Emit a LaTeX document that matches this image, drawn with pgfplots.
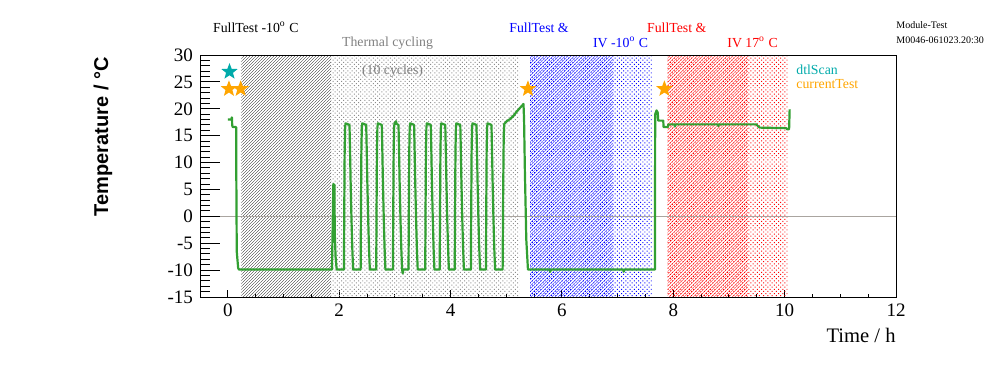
\documentclass[border=0pt]{standalone}
\usepackage{fontspec}
\setmainfont{Liberation Serif}
\newfontfamily\helv{Liberation Sans}
\usepackage{pgfplots}
\pgfplotsset{compat=1.18}
\usetikzlibrary{patterns.meta}

\definecolor{cgreen}{RGB}{50,160,50}
\definecolor{cteal}{RGB}{0,170,170}
\definecolor{corange}{RGB}{255,165,0}
\definecolor{cgraytxt}{RGB}{128,128,128}
\definecolor{cdots}{RGB}{140,140,140}
\definecolor{czero}{RGB}{170,165,160}

\pgfdeclareplotmark{fstar}{%
  \pgfpathmoveto{\pgfpointpolar{90}{\pgfplotmarksize}}%
  \pgfpathlineto{\pgfpointpolar{126}{0.42\pgfplotmarksize}}%
  \pgfpathlineto{\pgfpointpolar{162}{\pgfplotmarksize}}%
  \pgfpathlineto{\pgfpointpolar{198}{0.42\pgfplotmarksize}}%
  \pgfpathlineto{\pgfpointpolar{234}{\pgfplotmarksize}}%
  \pgfpathlineto{\pgfpointpolar{270}{0.42\pgfplotmarksize}}%
  \pgfpathlineto{\pgfpointpolar{306}{\pgfplotmarksize}}%
  \pgfpathlineto{\pgfpointpolar{342}{0.42\pgfplotmarksize}}%
  \pgfpathlineto{\pgfpointpolar{18}{\pgfplotmarksize}}%
  \pgfpathlineto{\pgfpointpolar{54}{0.42\pgfplotmarksize}}%
  \pgfpathclose
  \pgfusepathqfill}

\tikzset{
  hlines/.style={pattern={Lines[angle=45,distance=1.0607pt,line width=0.15pt]}},
  hdots/.style={pattern={Dots[angle=45,distance=1.5pt,radius=0.35pt]}},
}

\begin{document}
\begin{tikzpicture}[x=1pt,y=1pt]
\path[use as bounding box] (0,0) rectangle (498,186);
\begin{axis}[
  at={(100pt,37.5pt)}, anchor=south west,
  scale only axis, width=348pt, height=121pt,
  xmin=-0.5, xmax=12, ymin=-15, ymax=30,
  xtick={0,2,...,12}, ytick={-15,-10,...,30},
  minor x tick num=3, minor y tick num=4,
  tick pos=left, tick align=inside,
  major tick length=3.5pt, minor tick length=1.75pt,
  ytick style={draw=none},
  every tick/.append style={line width=0.5pt, black},
  axis line style={line width=0.5pt},
  tick label style={font=\fontsize{9.5}{11}\selectfont},
  /pgf/number format/assume math mode=true,
]
% shaded regions
\addplot[draw=none, mark=none, hlines, pattern color=black]
  coordinates {(0.245,-15) (1.85,-15) (1.85,30) (0.245,30) (0.245,-15)};
\addplot[draw=none, mark=none, hdots, pattern color=cdots]
  coordinates {(1.85,-15) (5.23,-15) (5.23,30) (1.85,30) (1.85,-15)};
\addplot[draw=none, mark=none, hdots, pattern color=blue]
  coordinates {(5.43,-15) (7.63,-15) (7.63,30) (5.43,30) (5.43,-15)};
\addplot[draw=none, mark=none, hlines, pattern color=blue]
  coordinates {(5.43,-15) (6.92,-15) (6.92,30) (5.43,30) (5.43,-15)};
\addplot[draw=none, mark=none, hdots, pattern color=red]
  coordinates {(7.90,-15) (10.05,-15) (10.05,30) (7.90,30) (7.90,-15)};
\addplot[draw=none, mark=none, hlines, pattern color=red]
  coordinates {(7.90,-15) (9.34,-15) (9.34,30) (7.90,30) (7.90,-15)};
% zero line
\addplot[czero, line width=0.5pt, mark=none] coordinates {(-0.5,0) (12,0)};
% temperature
\addplot[cgreen, line width=1.1pt, mark=none, line join=round] coordinates {
(0.0,18.0) (0.065,18.0) (0.07,18.4) (0.075,18.4) (0.078,16.9) (0.09,16.6) (0.15,16.6)
(0.152,8) (0.16,-6.5) (0.185,-9.6) (0.2,-9.9) (1.87,-9.9)
(1.895,6.0) (1.915,5.8) (1.92,-3) (1.935,-7.5) (1.955,-9.9)
(2.085,-9.9) (2.09,0) (2.098,12) (2.106,16.5) (2.114,17.3) (2.185,17.0) (2.195,12) (2.205,6.5) (2.22,-0.3) (2.235,-5.9) (2.25,-9.9)
(2.385,-9.9) (2.39,0) (2.398,12) (2.406,16.5) (2.414,17.3) (2.485,17.0) (2.495,12) (2.505,6.5) (2.52,-0.3) (2.535,-5.9) (2.55,-9.9)
(2.665,-9.9) (2.67,0) (2.678,12) (2.686,16.5) (2.694,17.3) (2.765,17.0) (2.775,12) (2.785,6.5) (2.80,-0.3) (2.815,-5.9) (2.83,-9.9)
(2.965,-9.9) (2.97,0) (2.978,12) (2.986,16.5) (2.994,17.4) (3.01,17.2) (3.02,17.7) (3.03,17.2) (3.065,17.0) (3.075,12) (3.085,6.5) (3.10,-0.3) (3.115,-5.9) (3.13,-9.9) (3.14,-10.6) (3.15,-9.9)
(3.245,-9.9) (3.25,0) (3.258,12) (3.266,16.5) (3.274,17.3) (3.345,17.0) (3.355,12) (3.365,6.5) (3.38,-0.3) (3.395,-5.9) (3.41,-9.9)
(3.545,-9.9) (3.55,0) (3.558,12) (3.566,16.5) (3.574,17.3) (3.645,17.0) (3.655,12) (3.665,6.5) (3.68,-0.3) (3.695,-5.9) (3.71,-9.9)
(3.805,-9.9) (3.81,0) (3.818,12) (3.826,16.5) (3.834,17.3) (3.905,17.0) (3.915,12) (3.925,6.5) (3.94,-0.3) (3.955,-5.9) (3.97,-9.9)
(4.075,-9.9) (4.08,0) (4.088,12) (4.096,16.5) (4.104,17.3) (4.175,17.0) (4.185,12) (4.195,6.5) (4.21,-0.3) (4.225,-5.9) (4.24,-9.9)
(4.365,-9.9) (4.37,0) (4.378,12) (4.386,16.5) (4.394,17.3) (4.465,17.0) (4.475,12) (4.485,6.5) (4.50,-0.3) (4.515,-5.9) (4.53,-9.9)
(4.635,-9.9) (4.64,0) (4.648,12) (4.656,16.5) (4.664,17.3) (4.735,17.0) (4.745,12) (4.755,6.5) (4.77,-0.3) (4.785,-5.9) (4.80,-9.9)
(4.935,-9.9) (4.945,5) (4.955,15) (4.965,17.2) (5.01,17.7) (5.07,18.1) (5.13,18.7) (5.19,19.5) (5.25,20.2) (5.31,20.9)
(5.32,18) (5.335,8.3) (5.36,-4.3) (5.39,-9.9) (5.78,-9.9) (5.79,-10.3) (5.80,-9.9)
(7.10,-9.9) (7.11,-10.3) (7.12,-9.9) (7.67,-9.9)
(7.675,19.0) (7.70,19.7) (7.72,19.3) (7.73,17.8) (7.82,17.8) (7.825,16.6) (7.905,16.6) (7.91,17.1)
(8.02,17.1) (8.03,16.7) (8.04,17.1) (8.80,17.1) (8.81,16.8) (8.82,17.1) (9.49,17.1) (9.55,16.5)
(10.03,16.4) (10.045,16.2) (10.08,16.2) (10.09,19.9)
};
% markers
\addplot[only marks, mark=fstar, mark size=4.3pt, mark options={fill=corange}] coordinates {
(0.02,23.7) (0.23,23.7) (5.39,23.7) (7.84,23.7)};
\addplot[only marks, mark=fstar, mark size=4.3pt, mark options={fill=cteal}] coordinates {
(0.03,26.9)};
\end{axis}
\begin{axis}[
  at={(100pt,37.5pt)}, anchor=south west,
  scale only axis, width=348pt, height=121pt,
  xmin=-0.5, xmax=12, ymin=-15, ymax=30,
  xtick=\empty, ytick={-15,-10,...,30}, yticklabels={},
  minor y tick num=4,
  tick pos=left, tick align=inside,
  major tick length=10pt, minor tick length=5pt,
  every tick/.append style={line width=0.5pt, black},
  axis line style={line width=0.5pt},
]
\addplot[draw=none, mark=none] coordinates {(0,0)};
\end{axis}
% texts
\node[anchor=base west, inner sep=0pt, font=\fontsize{6.9}{8}\selectfont] at (106.35,169.65) {FullTest -10\textsuperscript{o} C};
\node[anchor=base west, inner sep=0pt, font=\fontsize{6.9}{8}\selectfont, text=cgraytxt] at (170.85,162.65) {Thermal cycling};
\node[anchor=base west, inner sep=0pt, font=\fontsize{6.9}{8}\selectfont, text=cgraytxt] at (180.85,149) {(10 cycles)};
\node[anchor=base west, inner sep=0pt, font=\fontsize{6.9}{8}\selectfont, text=blue] at (254.5,169.85) {FullTest \&};
\node[anchor=base west, inner sep=0pt, font=\fontsize{6.9}{8}\selectfont, text=blue] at (296.35,162.35) {IV -10\textsuperscript{o} C};
\node[anchor=base west, inner sep=0pt, font=\fontsize{6.9}{8}\selectfont, text=red] at (323.35,169.85) {FullTest \&};
\node[anchor=base west, inner sep=0pt, font=\fontsize{6.9}{8}\selectfont, text=red] at (363.5,162.35) {IV 17\textsuperscript{o} C};
\node[anchor=base west, inner sep=0pt, font=\fontsize{5}{6}\selectfont] at (448,171.65) {Module-Test};
\node[anchor=base west, inner sep=0pt, font=\fontsize{5}{6}\selectfont] at (448,164.15) {M0046-061023.20:30};
\node[anchor=base west, inner sep=0pt, font=\fontsize{6.9}{8}\selectfont, text=cteal] at (398,149) {dtlScan};
\node[anchor=base west, inner sep=0pt, font=\fontsize{6.9}{8}\selectfont, text=corange] at (398,141.85) {currentTest};
\node[anchor=base east, inner sep=0pt, font=\fontsize{10.3}{12}\selectfont] at (448,15) {Time / h};
\node[rotate=90, anchor=east, inner sep=0pt, font=\helv\bfseries\fontsize{10}{12}\selectfont] at (51.5,157.5) {Temperature / °C};
\end{tikzpicture}
\end{document}
